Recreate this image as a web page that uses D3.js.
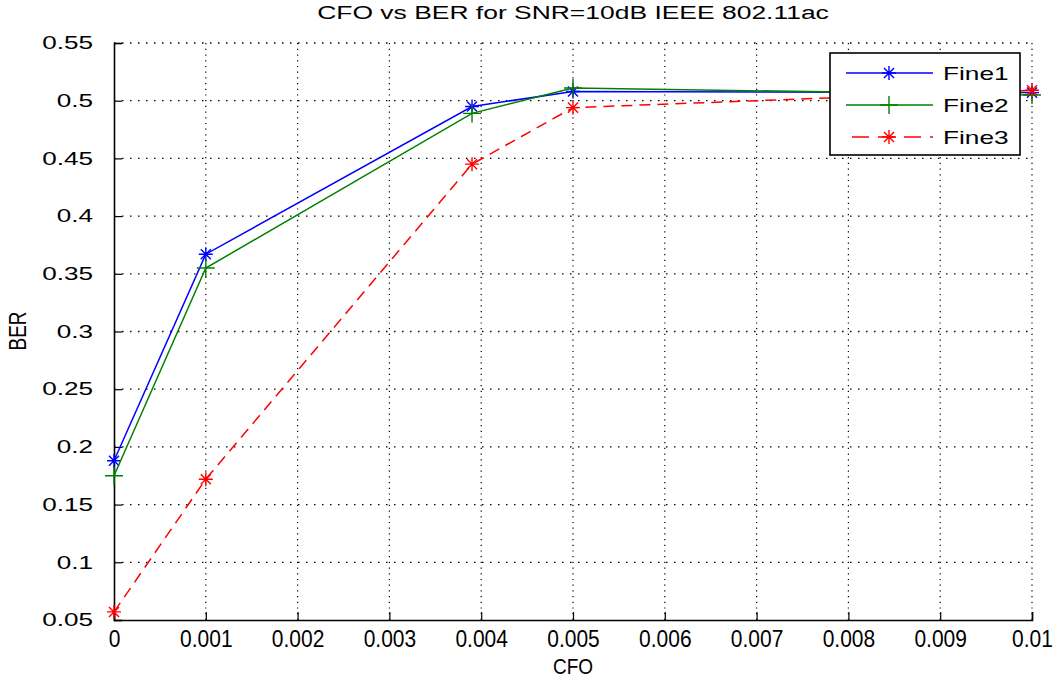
<!DOCTYPE html>
<html>
<head>
<meta charset="utf-8">
<script src="https://cdn.jsdelivr.net/npm/d3@7"></script>
<style>
  body { margin: 0; background: #fff; }
  svg { display: block; font-family: "Liberation Sans", Arial, sans-serif; }
</style>
</head>
<body>
<div id="chart"></div>
<script>
// values
var cfo = [0, 0.001, 0.0039, 0.005, 0.01];
var fine1 = [0.188, 0.367, 0.495, 0.508, 0.507];
var fine2 = [0.175, 0.355, 0.489, 0.511, 0.505];
var fine3 = [0.057, 0.172, 0.445, 0.494, 0.509];
var seriesNames = ['Fine1', 'Fine2', 'Fine3'];
var xTicks = [0, 0.001, 0.002, 0.003, 0.004, 0.005, 0.006, 0.007, 0.008, 0.009, 0.01];
var yTicks = [0.05, 0.1, 0.15, 0.2, 0.25, 0.3, 0.35, 0.4, 0.45, 0.5, 0.55];

var width = 1058,
  height = 679,
  plotLeft = 114,
  plotRight = 1032,
  plotTop = 43,
  plotBottom = 620;

var styles = [
  { color: '#0000ff', dash: null, marker: 'star' },
  { color: '#008000', dash: null, marker: 'plus' },
  { color: '#ff0000', dash: '11,7', marker: 'star' }
];

var x = d3.scaleLinear().domain([0, 0.01]).range([plotLeft, plotRight]);
var y = d3.scaleLinear().domain([0.05, 0.55]).range([plotBottom, plotTop]);

var svg = d3.select('#chart')
  .append('svg')
  .attr('width', width)
  .attr('height', height);

// grid
svg.append('g')
  .selectAll('line')
  .data(xTicks.slice(1))
  .enter()
  .append('line')
  .attr('x1', function(d) { return x(d); })
  .attr('x2', function(d) { return x(d); })
  .attr('y1', plotBottom)
  .attr('y2', plotTop)
  .attr('stroke', '#000')
  .attr('stroke-width', 1.2)
  .attr('stroke-dasharray', '1.2,4.5');

svg.append('g')
  .selectAll('line')
  .data(yTicks.slice(1))
  .enter()
  .append('line')
  .attr('x1', plotLeft)
  .attr('x2', plotRight)
  .attr('y1', function(d) { return y(d); })
  .attr('y2', function(d) { return y(d); })
  .attr('stroke', '#000')
  .attr('stroke-width', 1.3)
  .attr('stroke-dasharray', '1.5,6.5');

// axes, ticks inside
var fmt = function(d) { return String(+d.toFixed(3)); };

var xAxis = svg.append('g')
  .attr('transform', 'translate(0,' + plotBottom + ')')
  .call(d3.axisBottom(x).tickValues(xTicks).tickSize(-8).tickPadding(12).tickFormat(fmt));

var yAxis = svg.append('g')
  .attr('transform', 'translate(' + plotLeft + ',0)')
  .call(d3.axisLeft(y).tickValues(yTicks).tickSize(-8).tickPadding(21).tickFormat(fmt));

[xAxis, yAxis].forEach(function(ax) {
  ax.select('.domain').attr('stroke', '#000').attr('stroke-width', 1.6);
  ax.selectAll('.tick line').attr('stroke', '#000').attr('stroke-width', 1.2);
  ax.selectAll('.tick text')
    .attr('fill', '#000')
    .style('font-family', '"Liberation Sans", Arial, sans-serif');
});

xAxis.selectAll('.tick text')
  .style('font-size', '21px')
  .attr('y', 0)
  .attr('transform', 'translate(0,10) scale(1,1.12)')
  .attr('dy', '0.71em');

yAxis.selectAll('.tick text')
  .style('font-size', '18px')
  .attr('text-anchor', 'end')
  .attr('x', 0)
  .attr('transform', 'translate(-21,0) scale(1.45,1)');

// series
var lineGen = d3.line()
  .x(function(d) { return x(d[0]); })
  .y(function(d) { return y(d[1]); });

function drawMarker(g, type, color, size) {
  var r = size;
  var p = g.append('path')
    .attr('fill', 'none')
    .attr('stroke', color)
    .attr('stroke-width', 1.4);
  if (type === 'star') {
    var k = r * 0.72;
    p.attr('d', 'M' + (-r) + ',0L' + r + ',0M0,' + (-r) + 'L0,' + r +
      'M' + (-k) + ',' + (-k) + 'L' + k + ',' + k + 'M' + (-k) + ',' + k + 'L' + k + ',' + (-k));
  } else {
    p.attr('d', 'M' + (-r) + ',0L' + r + ',0M0,' + (-r) + 'L0,' + r);
  }
}

[fine1, fine2, fine3].forEach(function(vals, i) {
  var pts = cfo.map(function(c, j) { return [c, vals[j]]; });
  svg.append('path')
    .datum(pts)
    .attr('d', lineGen)
    .attr('fill', 'none')
    .attr('stroke', styles[i].color)
    .attr('stroke-width', 1.5)
    .attr('stroke-dasharray', styles[i].dash);

  pts.forEach(function(p) {
    var g = svg.append('g')
      .attr('transform', 'translate(' + x(p[0]) + ',' + y(p[1]) + ')');
    drawMarker(g, styles[i].marker, styles[i].color, styles[i].marker === 'plus' ? 9 : 7);
  });
});

// legend
var legend = svg.append('g').attr('transform', 'translate(830,53)');
legend.append('rect')
  .attr('width', 190)
  .attr('height', 102)
  .attr('fill', '#fff')
  .attr('stroke', '#000')
  .attr('stroke-width', 1.6);

seriesNames.forEach(function(name, i) {
  var ly = 20 + i * 32;
  legend.append('line')
    .attr('x1', 16)
    .attr('x2', 103)
    .attr('y1', ly)
    .attr('y2', ly)
    .attr('stroke', styles[i].color)
    .attr('stroke-width', 1.5)
    .attr('stroke-dasharray', styles[i].dash ? '17,9' : null)
    .attr('stroke-dashoffset', styles[i].dash ? -6 : null);
  var g = legend.append('g').attr('transform', 'translate(59,' + ly + ')');
  drawMarker(g, styles[i].marker, styles[i].color, styles[i].marker === 'plus' ? 9 : 7);
  legend.append('text')
    .attr('transform', 'translate(113,' + (ly + 7) + ') scale(1.38,1)')
    .style('font-size', '19px')
    .text(name);
});

// title and axis labels
svg.append('text')
  .attr('transform', 'translate(573,19) scale(1.47,1)')
  .attr('text-anchor', 'middle')
  .style('font-size', '18px')
  .text('CFO vs BER for SNR=10dB IEEE 802.11ac');

svg.append('text')
  .attr('transform', 'translate(573,674) scale(1,1.15)')
  .attr('text-anchor', 'middle')
  .style('font-size', '19px')
  .text('CFO');

svg.append('text')
  .attr('transform', 'translate(26,331) rotate(-90) scale(1,1.3)')
  .attr('text-anchor', 'middle')
  .style('font-size', '19px')
  .text('BER');
</script>
</body>
</html>
